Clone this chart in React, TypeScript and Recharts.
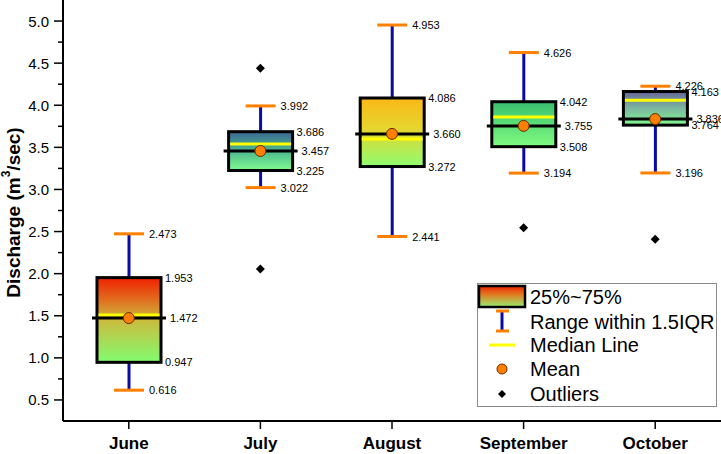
import React from "react";
import { ComposedChart, Bar, Scatter, XAxis, YAxis, Legend } from "recharts";

const FONT = "'Liberation Sans', Arial, sans-serif";

const months = ["June", "July", "August", "September", "October"];
const mins = [0.616, 3.022, 2.441, 3.194, 3.196];
const q1s = [0.947, 3.225, 3.272, 3.508, 3.764];
const means = [1.472, 3.457, 3.66, 3.755, 3.836];
const medians = [1.51, 3.54, 3.6, 3.86, 4.06];
const q3s = [1.953, 3.686, 4.086, 4.042, 4.163];
const maxs = [2.473, 3.992, 4.953, 4.626, 4.226];
const outliersHigh = [null, 4.44, null, null, null];
const outliersLow = [null, 2.055, null, 2.546, 2.41];

// gradient stops per box, top -> bottom
const boxStops = [
  [["0%", "#f02000"], ["25%", "#e26a1e"], ["50%", "#cbbb3e"], ["100%", "#82fc70"]],
  [["0%", "#3a6792"], ["50%", "#4cb890"], ["100%", "#80fb8e"]],
  [["0%", "#fbb818"], ["45%", "#e6d62e"], ["100%", "#8efd70"]],
  [["0%", "#38bf6e"], ["100%", "#80fc80"]],
  [["0%", "#67659a"], ["50%", "#7cb6a0"], ["100%", "#80fa8e"]],
];

const majorTicks = [0.5, 1.0, 1.5, 2.0, 2.5, 3.0, 3.5, 4.0, 4.5, 5.0];
const minorTicks = [0.75, 1.25, 1.75, 2.25, 2.75, 3.25, 3.75, 4.25, 4.75];

const legendLabels = ["25%~75%", "Range within 1.5IQR", "Median Line", "Mean", "Outliers"];

const data = months.map((month, i) => ({
  month,
  i,
  range: [mins[i], maxs[i]],
  min: mins[i],
  q1: q1s[i],
  mean: means[i],
  median: medians[i],
  q3: q3s[i],
  max: maxs[i],
  outHi: outliersHigh[i],
  outLo: outliersLow[i],
}));

const ORANGE = "#ff8000";
const BLUE = "#0a0aa6";
const YELLOW = "#ffff00";

function BoxShape(props: any) {
  const { x, y, width, height, payload } = props;
  if (!payload) return null;
  const top = Math.min(y, y + height);
  const bottom = Math.max(y, y + height);
  const lo = payload.min;
  const hi = payload.max;
  const py = (v: number) => bottom - ((v - lo) / (hi - lo)) * (bottom - top);
  const cx = x + width / 2;
  const right = x + width;
  const gid = `boxgrad${payload.i}`;
  const yQ3 = py(payload.q3);
  const yQ1 = py(payload.q1);
  const yMean = py(payload.mean);
  const yMed = py(payload.median);
  const yMax = py(payload.max);
  const yMin = py(payload.min);
  const lab = { fontSize: 11, fontFamily: FONT, fill: "#000", dominantBaseline: "central" as const };
  return (
    <g>
      <defs>
        <linearGradient id={gid} x1="0" y1="0" x2="0" y2="1">
          {boxStops[payload.i].map(([o, c]) => (
            <stop key={o} offset={o} stopColor={c} />
          ))}
        </linearGradient>
      </defs>
      <line x1={cx} x2={cx} y1={yMax} y2={yQ3} stroke={BLUE} strokeWidth={3} />
      <line x1={cx} x2={cx} y1={yQ1} y2={yMin} stroke={BLUE} strokeWidth={3} />
      <line x1={cx - 15} x2={cx + 15} y1={yMax} y2={yMax} stroke={ORANGE} strokeWidth={3} />
      <line x1={cx - 15} x2={cx + 15} y1={yMin} y2={yMin} stroke={ORANGE} strokeWidth={3} />
      <rect x={x} y={yQ3} width={width} height={yQ1 - yQ3} fill={`url(#${gid})`} stroke="#000" strokeWidth={3} />
      <line x1={x + 1.5} x2={right - 1.5} y1={yMed} y2={yMed} stroke={YELLOW} strokeWidth={3} />
      <line x1={x - 5} x2={right + 5} y1={yMean} y2={yMean} stroke="#000" strokeWidth={3} />
      <text x={cx + 20} y={yMax} {...lab}>{payload.max.toFixed(3)}</text>
      <text x={right + 4} y={yQ3} {...lab}>{payload.q3.toFixed(3)}</text>
      <text x={right + 9} y={yMean} {...lab}>{payload.mean.toFixed(3)}</text>
      <text x={right + 4} y={yQ1} {...lab}>{payload.q1.toFixed(3)}</text>
      <text x={cx + 20} y={yMin} {...lab}>{payload.min.toFixed(3)}</text>
    </g>
  );
}

function MeanDot(props: any) {
  const { cx, cy, payload } = props;
  if (cx == null || cy == null || payload?.mean == null) return <g />;
  return <circle cx={cx} cy={cy} r={5.5} fill={ORANGE} stroke="#6a2a00" strokeWidth={1} />;
}

function makeDiamond(key: "outHi" | "outLo") {
  return (props: any) => {
    const { cx, cy, payload } = props;
    if (cx == null || cy == null || payload?.[key] == null) return <g />;
    const s = 4.5;
    return <polygon points={`${cx},${cy - s} ${cx + s},${cy} ${cx},${cy + s} ${cx - s},${cy}`} fill="#000" />;
  };
}

function YTick(props: any) {
  const { x, y, payload } = props;
  const major = majorTicks.includes(payload.value);
  return (
    <g>
      <line x1={x - (major ? 9 : 5)} x2={x} y1={y} y2={y} stroke="#000" strokeWidth={1.5} />
      {major && (
        <text x={x - 14} y={y} textAnchor="end" dominantBaseline="central" fontSize={15} fontFamily={FONT} fill="#000">
          {payload.value.toFixed(1)}
        </text>
      )}
    </g>
  );
}

function XTick(props: any) {
  const { x, y, payload } = props;
  return (
    <g>
      <line x1={x} x2={x} y1={y} y2={y + 8} stroke="#000" strokeWidth={1.5} />
      <text x={x} y={y + 28} textAnchor="middle" fontSize={17} fontWeight="bold" fontFamily={FONT} fill="#000">
        {payload.value}
      </text>
    </g>
  );
}

function YTitle(props: any) {
  const vb = props.viewBox || { x: 0, y: 0, width: 63, height: 421 };
  const tx = vb.x + 13;
  const ty = vb.y + vb.height / 2 + 2;
  return (
    <text
      x={tx}
      y={ty}
      transform={`rotate(-90 ${tx} ${ty})`}
      textAnchor="middle"
      dominantBaseline="central"
      fontSize={19}
      fontWeight="bold"
      fontFamily={FONT}
      fill="#000"
    >
      Discharge (m<tspan dy={-7} fontSize={12}>3</tspan>
      <tspan dy={7}>/sec)</tspan>
    </text>
  );
}

function LegendBox() {
  const t = { fontSize: 20, fontFamily: FONT, fill: "#000", dominantBaseline: "central" as const };
  const rows = [14, 39, 62, 86, 111];
  return (
    <svg width={241} height={125} style={{ display: "block" }}>
      <defs>
        <linearGradient id="legendgrad" x1="0" y1="0" x2="0" y2="1">
          <stop offset="0%" stopColor="#f02000" />
          <stop offset="40%" stopColor="#e07a20" />
          <stop offset="100%" stopColor="#96f070" />
        </linearGradient>
      </defs>
      <rect x={0.5} y={0.5} width={239} height={123} fill="#fff" stroke="#8a8a8a" strokeWidth={1} />
      <rect x={2} y={3} width={46} height={21} fill="url(#legendgrad)" stroke="#000" strokeWidth={2.5} />
      <line x1={25} x2={25} y1={28} y2={48} stroke={BLUE} strokeWidth={3} />
      <line x1={19} x2={32} y1={28} y2={28} stroke={ORANGE} strokeWidth={3} />
      <line x1={19} x2={32} y1={48} y2={48} stroke={ORANGE} strokeWidth={3} />
      <line x1={12} x2={38} y1={62} y2={62} stroke={YELLOW} strokeWidth={3} />
      <circle cx={25} cy={86} r={5} fill={ORANGE} stroke="#6a2a00" strokeWidth={1} />
      <polygon points="25,107 29,111 25,115 21,111" fill="#000" />
      {legendLabels.map((l, k) => (
        <text key={l} x={53} y={rows[k]} {...t}>
          {l}
        </text>
      ))}
    </svg>
  );
}

export default function App() {
  return (
    <div style={{ position: "absolute", left: 0, top: 0, background: "#fff" }}>
      <ComposedChart width={721} height={454} data={data} margin={{ top: 0, right: 0, bottom: 0, left: 0 }}>
        <XAxis
          dataKey="month"
          height={33}
          axisLine={{ stroke: "#000", strokeWidth: 2 }}
          tickLine={false}
          tickSize={0}
          tickMargin={0}
          tick={<XTick />}
          interval={0}
        />
        <YAxis
          width={63}
          domain={[0.25, 5.25]}
          type="number"
          ticks={[...majorTicks, ...minorTicks].sort((a, b) => a - b)}
          allowDataOverflow
          axisLine={{ stroke: "#000", strokeWidth: 2 }}
          tickLine={false}
          tickSize={0}
          tickMargin={0}
          tick={<YTick />}
          interval={0}
          label={(p: any) => <YTitle {...p} />}
        />
        <Legend
          layout="horizontal"
          verticalAlign="middle"
          align="center"
          content={() => <LegendBox />}
          wrapperStyle={{ position: "absolute", left: 477, top: 283, width: 241, height: 125 }}
        />
        <Bar dataKey="range" barSize={64} shape={<BoxShape />} isAnimationActive={false} legendType="none" />
        <Scatter dataKey="mean" shape={<MeanDot />} isAnimationActive={false} legendType="none" />
        <Scatter dataKey="outHi" shape={makeDiamond("outHi")} isAnimationActive={false} legendType="none" />
        <Scatter dataKey="outLo" shape={makeDiamond("outLo")} isAnimationActive={false} legendType="none" />
      </ComposedChart>
    </div>
  );
}
